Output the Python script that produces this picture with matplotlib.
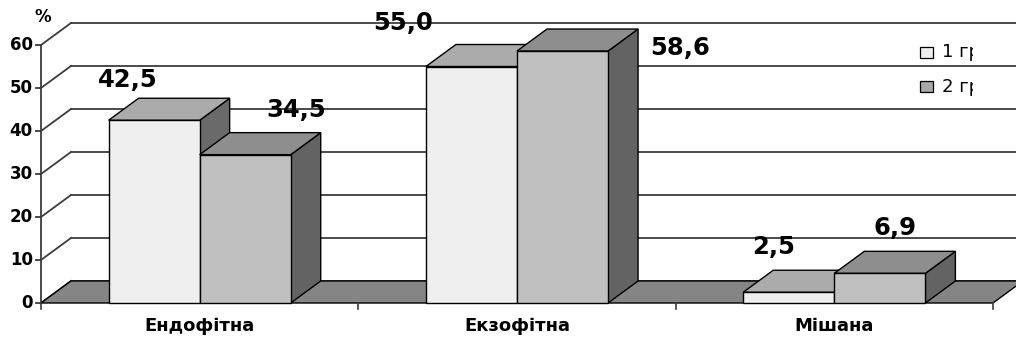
import matplotlib
matplotlib.use("Agg")
import matplotlib.pyplot as plt
from matplotlib.patches import Polygon, Rectangle
from matplotlib.transforms import Bbox, TransformedBbox

# дані
categories = ["Ендофітна", "Екзофітна", "Мішана"]
group1 = [42.5, 55.0, 2.5]
group2 = [34.5, 58.6, 6.9]
series_names = ["1 гр", "2 гр"]
value_labels = [["42,5", "55,0", "2,5"], ["34,5", "58,6", "6,9"]]
yticks = [0, 10, 20, 30, 40, 50, 60]

# зсув підписів значень відносно верху стовпчика (кат. одиниці, %)
label_shift = [[(-0.082, 9.3), (-0.214, 10.2), (-0.047, 10.5)],
               [(0.161, 10.5), (0.369, 0.7), (0.047, 10.5)]]

front_col = ["#efefef", "#c0c0c0"]
top_col = ["#ababab", "#8e8e8e"]
side_col = ["#6a6a6a", "#636363"]
legend_col = ["#efefef", "#a8a8a8"]
floor_col = "#858585"
grid_col = "#3c3c3c"

DX, DY = 0.0945, 5.12     # глибина псевдо-3D
BW = 0.287                # ширина стовпчика
FONT = "DejaVu Sans"

fig = plt.figure(figsize=(10.16, 3.40), dpi=100)
ax = fig.add_axes([0, 0, 1, 1])
ax.set_xlim(-0.1292, 3.0725)
ax.set_ylim(-8.605, 70.47)
ax.axis("off")

n = len(categories)
ymax = yticks[-1]

# сітка на лівій та задній стінці
for v in yticks:
    ax.plot([0, DX], [v, v + DY], color=grid_col, lw=1.3, zorder=1)
    ax.plot([DX, n + DX + 0.05], [v + DY, v + DY], color=grid_col, lw=1.3, zorder=1)

# вісь Y
ax.plot([0, 0], [0, ymax], color=grid_col, lw=1.3, zorder=1)
for v in yticks:
    ax.plot([-0.016, 0], [v, v], color=grid_col, lw=1.3, zorder=1)
    ax.text(-0.026, v, str(v), ha="right", va="center", fontsize=12,
            fontweight="bold", family=FONT)
ax.text(0.006, ymax + 6.6, "%", ha="center", va="center", fontsize=12,
        fontweight="bold", family=FONT)

# підлога
ax.add_patch(Polygon([(0, 0), (n, 0), (n + DX, DY), (DX, DY)], closed=True,
                     facecolor=floor_col, edgecolor="black", lw=1.0, zorder=2))
for i in range(n + 1):
    ax.plot([i, i], [0, -1.5], color=grid_col, lw=1.2, zorder=2)


def bar3d(x0, h, k):
    ax.add_patch(Polygon([(x0 + BW, 0), (x0 + BW + DX, DY),
                          (x0 + BW + DX, h + DY), (x0 + BW, h)], closed=True,
                         facecolor=side_col[k], edgecolor="black", lw=1.0, zorder=3))
    ax.add_patch(Polygon([(x0, h), (x0 + BW, h), (x0 + BW + DX, h + DY),
                          (x0 + DX, h + DY)], closed=True,
                         facecolor=top_col[k], edgecolor="black", lw=1.0, zorder=3))
    ax.add_patch(Rectangle((x0, 0), BW, h, facecolor=front_col[k],
                           edgecolor="black", lw=1.0, zorder=3))


for i in range(n):
    x1 = i + (1 - 2 * BW) / 2
    for k, vals in enumerate([group1, group2]):
        x0 = x1 + k * BW
        bar3d(x0, vals[i], k)
        sx, sy = label_shift[k][i]
        ax.text(x0 + BW / 2 + sx, vals[i] + sy, value_labels[k][i],
                ha="center", va="center", fontsize=17.5, fontweight="bold",
                family=FONT, zorder=5)
    ax.text(i + 0.5, -5.35, categories[i], ha="center", va="center",
            fontsize=13, fontweight="bold", family=FONT)

# легенда (текст обрізано праворуч)
clip_box = TransformedBbox(Bbox([[2.7, 40], [2.936, 70]]), ax.transData)
for k, name in enumerate(series_names):
    yy = 58.3 - k * 8.0
    ax.add_patch(Rectangle((2.771, yy - 1.3), 0.041, 2.6,
                           facecolor=legend_col[k], edgecolor="black",
                           lw=0.9, zorder=4))
    t = ax.text(2.838, yy, name, ha="left", va="center", fontsize=13,
                family=FONT, zorder=4)
    t.set_clip_box(clip_box)
    t.set_clip_on(True)

fig.savefig("out.png", dpi=100)
